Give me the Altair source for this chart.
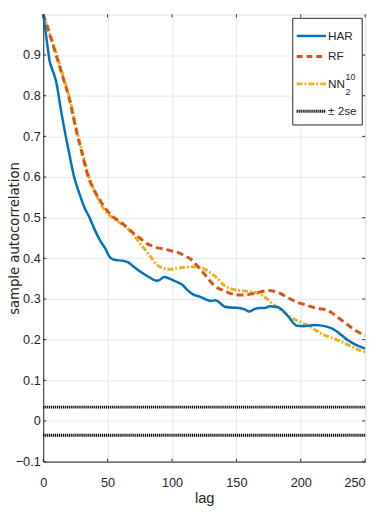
import altair as alt
import pandas as pd

# ---------------- data ----------------
har_lag = [0, 3, 5, 7, 10, 14, 17.5, 21, 24, 28, 32, 36, 40, 44, 48, 52, 56, 62, 66, 70,
           75, 82, 88, 90, 94, 98, 103, 108, 112, 116, 122, 127, 130, 134, 138, 141, 146,
           152, 156, 160, 164, 168, 172, 176, 180, 183, 186, 190, 194, 197, 202, 206, 210,
           215, 220, 224, 228, 232, 236, 240, 245, 250]
har_acf = [1.0, 0.93, 0.885, 0.865, 0.835, 0.76, 0.70, 0.645, 0.60, 0.56, 0.525, 0.50, 0.47,
           0.445, 0.425, 0.402, 0.396, 0.394, 0.39, 0.38, 0.368, 0.354, 0.345, 0.346, 0.354,
           0.35, 0.343, 0.335, 0.322, 0.312, 0.305, 0.298, 0.295, 0.297, 0.288, 0.281, 0.279,
           0.278, 0.275, 0.269, 0.275, 0.278, 0.278, 0.282, 0.281, 0.279, 0.272, 0.258, 0.242,
           0.234, 0.233, 0.234, 0.236, 0.235, 0.232, 0.228, 0.22, 0.21, 0.20, 0.192, 0.184,
           0.178]

rf_lag = [0, 5, 10, 15, 20, 26, 30, 35, 40, 45, 50, 55, 60, 65, 70, 75, 80, 85, 90, 95, 100,
          105, 110, 115, 120, 125, 129, 134, 139, 145, 150, 156, 161, 166, 171, 176, 180, 185,
          190, 195, 200, 205, 210, 215, 220, 225, 230, 235, 240, 245, 250]
rf_acf = [1.0, 0.95, 0.9, 0.848, 0.795, 0.71, 0.66, 0.6, 0.565, 0.538, 0.516, 0.5, 0.49, 0.476,
          0.462, 0.45, 0.437, 0.43, 0.425, 0.422, 0.418, 0.414, 0.406, 0.397, 0.38, 0.362,
          0.346, 0.33, 0.322, 0.314, 0.31, 0.31, 0.312, 0.315, 0.319, 0.321, 0.318, 0.312,
          0.303, 0.295, 0.289, 0.284, 0.279, 0.276, 0.273, 0.264, 0.252, 0.24, 0.228, 0.218,
          0.21]

nn_lag = [0, 5, 10, 15, 20, 26, 30, 35, 40, 45, 50, 55, 60, 65, 70, 75, 80, 85, 88, 92, 97,
          100, 105, 110, 115, 120, 125, 130, 135, 140, 145, 150, 155, 160, 165, 170, 175, 180,
          185, 190, 195, 200, 205, 210, 215, 220, 225, 230, 235, 240, 245, 250]
nn_acf = [1.0, 0.955, 0.905, 0.853, 0.8, 0.715, 0.665, 0.605, 0.565, 0.532, 0.51, 0.497, 0.486,
          0.475, 0.458, 0.437, 0.418, 0.397, 0.385, 0.377, 0.373, 0.373, 0.376, 0.378, 0.379,
          0.379, 0.374, 0.364, 0.352, 0.335, 0.326, 0.322, 0.32, 0.318, 0.316, 0.309, 0.297,
          0.283, 0.272, 0.26, 0.25, 0.243, 0.235, 0.226, 0.216, 0.209, 0.203, 0.197, 0.19,
          0.182, 0.175, 0.169]

se_lag = [0, 250]
se_upper = [0.034, 0.034]
se_lower = [-0.035, -0.035]

x_ticks = [0, 50, 100, 150, 200, 250]
y_ticks = [-0.1, 0, 0.1, 0.2, 0.3, 0.4, 0.5, 0.6, 0.7, 0.8, 0.9]

legend_labels = ["HAR", "RF", "NN", "\u00b1 2se"]

# ---------------- styling ----------------
W, H = 329, 457
FONT = "Liberation Sans, Arial, sans-serif"
AX = "#262626"
BLUE, RED, YEL = "#0072BD", "#D95319", "#EDB120"

har = pd.DataFrame({"lag": har_lag, "acf": har_acf})
rf = pd.DataFrame({"lag": rf_lag, "acf": rf_acf})
nn = pd.DataFrame({"lag": nn_lag, "acf": nn_acf})
se_u = pd.DataFrame({"lag": se_lag, "acf": se_upper})
se_l = pd.DataFrame({"lag": se_lag, "acf": se_lower})

xs = alt.Scale(domain=[0, 250], nice=False)
ys = alt.Scale(domain=[-0.1, 1.0], nice=False, zero=False)

x_enc = alt.X("lag:Q", scale=xs, axis=alt.Axis(
    values=x_ticks, title="lag", grid=True, gridColor="#e6e6e6", tickSize=0,
    labelPadding=15, labelFont=FONT, labelFontSize=13, labelColor=AX,
    labelAlign=alt.ExprRef(expr="datum.value == 250 ? 'right' : 'center'"),
    titleFont=FONT, titleFontSize=15, titleFontWeight="normal", titleColor=AX,
    titlePadding=2, domainColor=AX, labelFlush=False))
y_enc = alt.Y("acf:Q", scale=ys, axis=alt.Axis(
    values=y_ticks, format=".1~f", title="sample autocorrelation", grid=True,
    gridColor="#e6e6e6", tickSize=0, labelPadding=3, labelFont=FONT, labelFontSize=13,
    labelColor=AX, titleFont="DejaVu Sans", titleFontSize=13.5, titleFontWeight="normal",
    titleColor=AX, titleX=-22, titleY=H / 2, titleBaseline="bottom", titleAngle=-90,
    domainColor=AX))


def line(df, color, width, dash=None):
    kw = dict(color=color, strokeWidth=width, strokeCap="butt", interpolate="monotone")
    if dash:
        kw["strokeDash"] = dash
    return alt.Chart(df).mark_line(**kw).encode(x=x_enc, y=y_enc)


base = alt.Chart(har).mark_line(opacity=0).encode(x=x_enc, y=y_enc)

se1 = alt.Chart(se_u).mark_line(color="black", strokeWidth=3, strokeDash=[1.2, 0.8],
                                 strokeCap="butt").encode(x="lag:Q", y="acf:Q")
se2 = alt.Chart(se_l).mark_line(color="black", strokeWidth=3, strokeDash=[1.2, 0.8],
                                 strokeCap="butt").encode(x="lag:Q", y="acf:Q")
l_nn = line(nn, YEL, 3, [6, 2, 2, 2])
l_rf = line(rf, RED, 3, [7, 4])
l_har = line(har, BLUE, 2.5)

# inward ticks (driven by scales)
xt = pd.DataFrame({"lag": x_ticks})
yt = pd.DataFrame({"acf": y_ticks})
tick_b = alt.Chart(xt).mark_rule(color=AX, strokeWidth=1).encode(
    x="lag:Q", y=alt.value(H), y2=alt.value(H - 3))
tick_t = alt.Chart(xt).mark_rule(color=AX, strokeWidth=1).encode(
    x="lag:Q", y=alt.value(0), y2=alt.value(3))
tick_l = alt.Chart(yt).mark_rule(color=AX, strokeWidth=1).encode(
    y="acf:Q", x=alt.value(0), x2=alt.value(3))
tick_r = alt.Chart(yt).mark_rule(color=AX, strokeWidth=1).encode(
    y="acf:Q", x=alt.value(W), x2=alt.value(W - 3))

# legend (manual)
one = pd.DataFrame({"k": [0]})
LX0, LX1, LY0, LY1 = 255, 326, 4, 113
SX0, SX1, TX = 259, 289, 291
rows = [22, 43, 71, 99]
leg_box = alt.Chart(one).mark_rect(fill="white", stroke=AX, strokeWidth=1).encode(
    x=alt.value(LX0), x2=alt.value(LX1), y=alt.value(LY0), y2=alt.value(LY1))
leg_styles = [
    dict(color=BLUE, strokeWidth=2.5),
    dict(color=RED, strokeWidth=3, strokeDash=[6, 4]),
    dict(color=YEL, strokeWidth=3, strokeDash=[6, 2, 2, 2]),
    dict(color="black", strokeWidth=3, strokeDash=[1.2, 0.8]),
]
leg_layers = [leg_box]
for ry, st, lab in zip(rows, leg_styles, legend_labels):
    leg_layers.append(alt.Chart(one).mark_rule(strokeCap="butt", **st).encode(
        x=alt.value(SX0), x2=alt.value(SX1), y=alt.value(ry)))
    leg_layers.append(alt.Chart(one).mark_text(
        text=lab, align="left", baseline="middle", font=FONT, fontSize=12, color=AX).encode(
        x=alt.value(TX), y=alt.value(ry)))
leg_layers.append(alt.Chart(one).mark_text(
    text="10", align="left", baseline="middle", font=FONT, fontSize=9, color=AX).encode(
    x=alt.value(TX + 18), y=alt.value(rows[2] - 7)))
leg_layers.append(alt.Chart(one).mark_text(
    text="2", align="left", baseline="middle", font=FONT, fontSize=9, color=AX).encode(
    x=alt.value(TX + 18), y=alt.value(rows[2] + 8)))

chart = alt.layer(
    base, se1, se2, l_nn, l_rf, l_har, tick_b, tick_t, tick_l, tick_r, *leg_layers
).properties(
    width=W, height=H,
    autosize=alt.AutoSizeParams(type="none"),
    padding={"left": 36, "top": 1, "right": 8, "bottom": 48},
).configure_view(stroke=AX, strokeWidth=1).configure(background="white")

chart.save("out.html", embed_options={"renderer": "svg", "actions": False})
